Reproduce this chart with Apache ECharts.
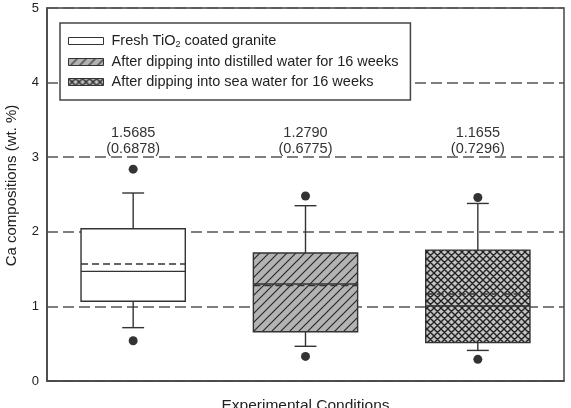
<!DOCTYPE html>
<html>
<head>
<meta charset="utf-8">
<script src="https://cdn.jsdelivr.net/npm/echarts@6/dist/echarts.min.js"></script>
<style>html,body{margin:0;padding:0;background:#fff}#c{width:571px;height:408px}</style>
</head>
<body>
<div id="c"></div>
<script>
// ---- data ----
const categories = ['Fresh TiO2 coated granite', 'After dipping into distilled water for 16 weeks', 'After dipping into sea water for 16 weeks'];
const seriesNames = ['Fresh TiO{sub|2} coated granite', 'After dipping into distilled water for 16 weeks', 'After dipping into sea water for 16 weeks'];
// [min whisker, Q1, median, Q3, max whisker]
const boxFresh = [0.715, 1.07, 1.47, 2.04, 2.52];
const boxDistilled = [0.465, 0.66, 1.30, 1.715, 2.35];
const boxSea = [0.41, 0.515, 1.005, 1.755, 2.38];
const means = [1.5685, 1.2790, 1.1655];
const sds = [0.6878, 0.6775, 0.7296];
const outliersHigh = [2.84, 2.48, 2.46];
const outliersLow = [0.54, 0.33, 0.29];
const yTicks = [0, 1, 2, 3, 4, 5];

// ---- patterns ----
function makeHatch() {
  const p = 9, cv = document.createElement('canvas');
  cv.width = p; cv.height = p;
  const g = cv.getContext('2d');
  g.fillStyle = '#b3b3b3'; g.fillRect(0, 0, p, p);
  g.strokeStyle = '#2a2a2a'; g.lineWidth = 1.2;
  g.beginPath();
  g.moveTo(-1, p + 1); g.lineTo(p + 1, -1);
  g.moveTo(-2, 2); g.lineTo(2, -2);
  g.moveTo(p - 2, p + 2); g.lineTo(p + 2, p - 2);
  g.stroke();
  return { image: cv, repeat: 'repeat' };
}
function makeCross() {
  const p = 7, cv = document.createElement('canvas');
  cv.width = p; cv.height = p;
  const g = cv.getContext('2d');
  g.fillStyle = '#c4c4c4'; g.fillRect(0, 0, p, p);
  g.strokeStyle = '#222'; g.lineWidth = 1.4;
  g.beginPath();
  g.moveTo(-1, p + 1); g.lineTo(p + 1, -1);
  g.moveTo(-2, 2); g.lineTo(2, -2);
  g.moveTo(p - 2, p + 2); g.lineTo(p + 2, p - 2);
  g.moveTo(-1, -1); g.lineTo(p + 1, p + 1);
  g.moveTo(-2, p - 2); g.lineTo(2, p + 2);
  g.moveTo(p - 2, -2); g.lineTo(p + 2, 2);
  g.stroke();
  return { image: cv, repeat: 'repeat' };
}
const fills = ['#ffffff', makeHatch(), makeCross()];
const boxes = [boxFresh, boxDistilled, boxSea];
const LINE = '#333';

function boxRender(idx) {
  return function (params, api) {
    const x = api.value(0);
    const cx = api.coord([x, 0])[0];
    const band = api.size([1, 0])[0];
    const bw = band * 0.605, half = bw / 2, cap = bw * 0.105;
    const Y = v => api.coord([x, v])[1];
    const mn = api.value(1), q1 = api.value(2), md = api.value(3), q3 = api.value(4), mx = api.value(5), mean = api.value(6);
    const ls = { stroke: LINE, lineWidth: 1.4 };
    return {
      type: 'group',
      children: [
        { type: 'line', shape: { x1: cx, y1: Y(q3), x2: cx, y2: Y(mx) }, style: ls },
        { type: 'line', shape: { x1: cx, y1: Y(q1), x2: cx, y2: Y(mn) }, style: ls },
        { type: 'line', shape: { x1: cx - cap, y1: Y(mx), x2: cx + cap, y2: Y(mx) }, style: ls },
        { type: 'line', shape: { x1: cx - cap, y1: Y(mn), x2: cx + cap, y2: Y(mn) }, style: ls },
        { type: 'rect', shape: { x: cx - half, y: Y(q3), width: bw, height: Y(q1) - Y(q3) },
          style: { fill: fills[idx], stroke: LINE, lineWidth: 1.4 } },
        { type: 'line', shape: { x1: cx - half, y1: Y(md), x2: cx + half, y2: Y(md) }, style: { stroke: LINE, lineWidth: 1.4 } },
        { type: 'line', shape: { x1: cx - half, y1: Y(mean), x2: cx + half, y2: Y(mean) },
          style: { stroke: LINE, lineWidth: 1.4, lineDash: [7, 4] } }
      ]
    };
  };
}

const series = boxes.map((b, i) => ({
  name: seriesNames[i],
  type: 'custom',
  z: 3,
  itemStyle: { color: fills[i], borderColor: LINE, borderWidth: 1 },
  renderItem: boxRender(i),
  data: [[i].concat(b).concat([means[i]])]
}));

series.push({
  name: 'outliers',
  type: 'scatter',
  z: 4,
  symbolSize: 9,
  itemStyle: { color: '#000' },
  data: categories.map((c, i) => [i, outliersHigh[i]]).concat(categories.map((c, i) => [i, outliersLow[i]]))
});

series.push({
  name: 'labels',
  type: 'custom',
  z: 5,
  renderItem: function (params, api) {
    const i = api.value(0);
    const p = api.coord([i, 3]);
    const st = { fontSize: 14.5, fontFamily: 'Liberation Sans, Arial, sans-serif', fill: '#333', align: 'center', verticalAlign: 'middle' };
    return {
      type: 'group',
      children: [
        { type: 'text', x: p[0], y: p[1] - 24, style: Object.assign({ text: api.value(1).toFixed(4) }, st) },
        { type: 'text', x: p[0], y: p[1] - 8.5, style: Object.assign({ text: '(' + api.value(2).toFixed(4) + ')' }, st) }
      ]
    };
  },
  data: categories.map((c, i) => [i, means[i], sds[i]])
});

const chart = echarts.init(document.getElementById('c'), null, { renderer: 'canvas' });
chart.setOption({
  animation: false,
  backgroundColor: '#fff',
  textStyle: { fontFamily: 'Liberation Sans, Arial, sans-serif' },
  grid: { left: 47, right: 7, top: 8, bottom: 27, show: true, borderColor: '#444', borderWidth: 1.5, backgroundColor: 'transparent',
          containLabel: false, outerBoundsMode: 'none' },
  legend: {
    orient: 'vertical',
    left: 60, top: 23,
    padding: [10.5, 12, 10.5, 8],
    itemGap: 5,
    itemWidth: 35, itemHeight: 7,
    icon: 'rect',
    backgroundColor: '#fff',
    borderColor: '#444', borderWidth: 1.5,
    textStyle: {
      fontSize: 14.5, color: '#222', padding: [0, 0, 0, 3],
      rich: { sub: { fontSize: 9, verticalAlign: 'bottom', padding: [8, 0, 0, 0] } }
    },
    data: seriesNames.map((n, i) => ({ name: n, itemStyle: { color: fills[i], borderColor: '#333', borderWidth: 1 } }))
  },
  xAxis: {
    type: 'category',
    data: categories,
    name: 'Experimental Conditions',
    nameLocation: 'middle',
    nameGap: 17,
    nameTextStyle: { fontSize: 15.5, color: '#222' },
    axisLine: { lineStyle: { color: '#444', width: 1.5 } },
    axisTick: { inside: true, alignWithLabel: true, length: 4, lineStyle: { color: '#444', width: 1.2 } },
    axisLabel: { show: false },
    splitLine: { show: false }
  },
  yAxis: {
    type: 'value',
    min: yTicks[0], max: yTicks[yTicks.length - 1], interval: 1,
    name: 'Ca compositions (wt. %)',
    nameLocation: 'middle',
    nameGap: 28,
    nameTextStyle: { fontSize: 15, color: '#222', padding: [0, 0, 0, 18] },
    axisLine: { show: true, lineStyle: { color: '#444', width: 1.5 } },
    axisTick: { inside: true, length: 4, lineStyle: { color: '#444', width: 1.2 } },
    axisLabel: { fontSize: 13, color: '#222', margin: 8 },
    splitLine: { show: true, lineStyle: { color: '#555', width: 1.5, type: [11, 5] } }
  },
  series: series
});
</script>
</body>
</html>
